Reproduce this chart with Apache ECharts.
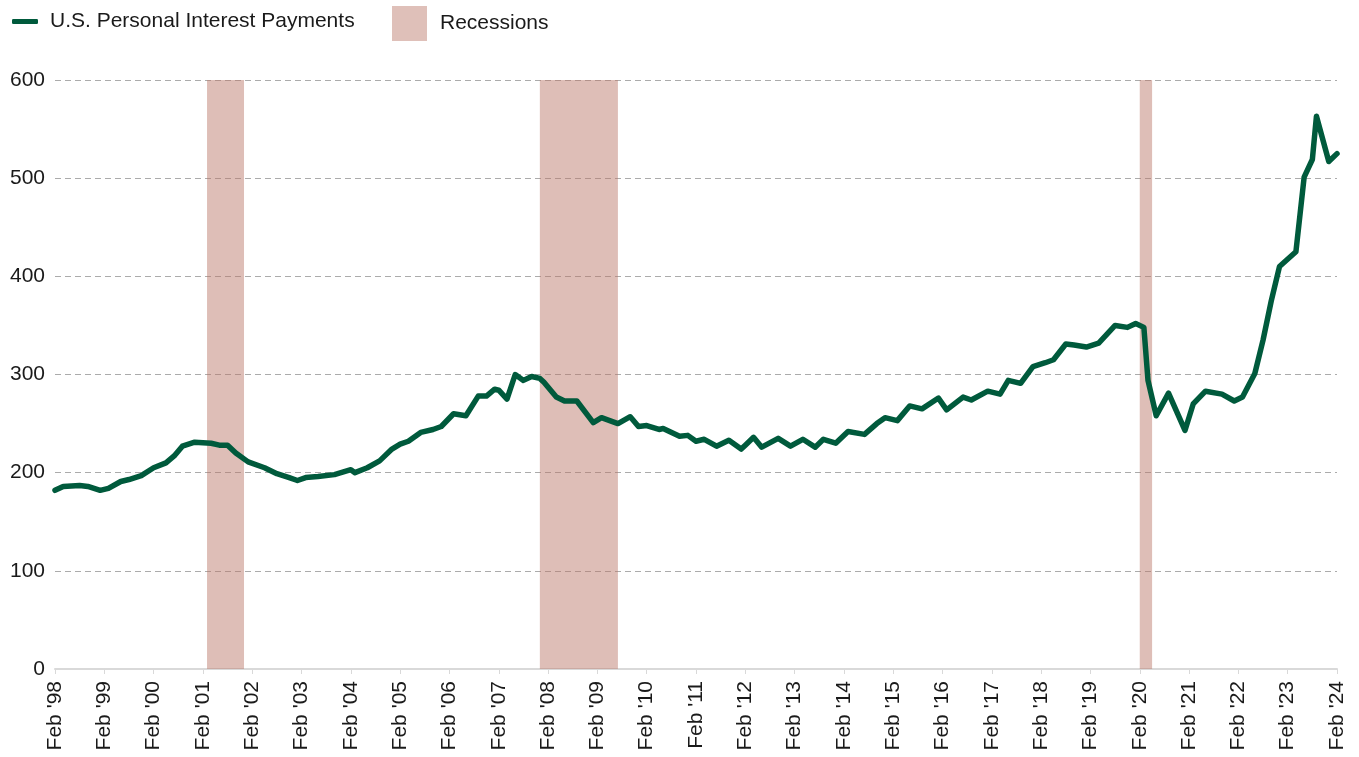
<!DOCTYPE html>
<html>
<head>
<meta charset="utf-8">
<script src="https://cdn.jsdelivr.net/npm/echarts@6/dist/echarts.min.js"></script>
<style>
html,body{margin:0;padding:0;background:#fff;}
#chart{width:1359px;height:757px;}
</style>
</head>
<body>
<div id="chart"></div>
<script>
// ---- DATA ----
const seriesName = 'U.S. Personal Interest Payments';
const recessionName = 'Recessions';
const dates = [
 '1998-02','1998-04','1998-08','1998-10','1999-01','1999-03','1999-06','1999-08','1999-11',
 '2000-02','2000-05','2000-07','2000-09','2000-12','2001-04','2001-06','2001-08','2001-10',
 '2002-01','2002-05','2002-08','2002-11','2003-01','2003-03','2003-06','2003-10',
 '2004-02','2004-03','2004-06','2004-09','2004-12','2005-02','2005-04','2005-07','2005-10','2005-12',
 '2006-03','2006-06','2006-09','2006-11','2007-01','2007-02','2007-04','2007-06','2007-08','2007-10','2007-12',
 '2008-01','2008-04','2008-06','2008-09','2009-01','2009-03','2009-07','2009-10','2009-12',
 '2010-02','2010-05','2010-06','2010-10','2010-12','2011-02','2011-04','2011-07','2011-10',
 '2012-01','2012-02','2012-04','2012-06','2012-10','2013-01','2013-04','2013-07','2013-09','2013-12',
 '2014-03','2014-07','2014-10','2014-12','2015-03','2015-06','2015-09','2016-01','2016-03','2016-07','2016-09',
 '2017-01','2017-04','2017-06','2017-09','2017-12','2018-03','2018-05','2018-08','2018-10',
 '2019-01','2019-04','2019-08','2019-11','2020-01','2020-03','2020-04','2020-06','2020-09',
 '2021-01','2021-03','2021-06','2021-10','2022-01','2022-03','2022-06','2022-08','2022-10','2022-12',
 '2023-04','2023-06','2023-08','2023-09','2023-12','2024-02'
];
const values = [
 182,186,187,186,182,184,191,193,197,
 205,210,217,227,231,230,228,228,220,
 211,205,199,195,192,195,196,198,
 203,200,205,212,224,229,232,241,244,247,
 260,258,278,278,285,284,275,300,294,298,296,
 292,277,273,273,251,256,250,257,247,
 248,244,245,237,238,232,234,227,233,
 224,228,236,226,235,227,234,226,234,230,
 242,239,250,256,253,268,265,276,264,277,274,
 283,280,294,291,308,312,315,331,330,
 328,332,350,348,352,348,294,258,281,
 243,270,283,280,273,277,301,335,375,410,
 425,501,519,563,517,525
];
const recessionStarts = ['2001-03','2007-12','2020-02'];
const recessionEnds   = ['2001-11','2009-06','2020-04'];
const axisStart = '1998-02';
const axisEnd = '2024-02';
const yTicks = [0,100,200,300,400,500,600];

// ---- HELPERS ----
function monthIndex(s){
  const [y,m] = s.split('-').map(Number);
  const [y0,m0] = axisStart.split('-').map(Number);
  return (y - y0) * 12 + (m - m0);
}
const points = dates.map((d,i)=>[monthIndex(d), values[i]]);
const areas = recessionStarts.map((s,i)=>[{xAxis: monthIndex(s)},{xAxis: monthIndex(recessionEnds[i]) + 1}]);
const xMax = monthIndex(axisEnd);

const FONT = 'Liberation Sans, Arial, sans-serif';
const chart = echarts.init(document.getElementById('chart'), null, {renderer:'canvas'});
chart.setOption({
  animation:false,
  backgroundColor:'#fff',
  textStyle:{fontFamily:FONT},
  legend:[
    {
      data:[seriesName], left:7, top:6, icon:'roundRect',
      itemWidth:26, itemHeight:5,
      textStyle:{fontSize:21, color:'#1a1a1a', fontFamily:FONT, padding:[0,0,0,7]}
    },
    {
      data:[recessionName], left:387, top:1, icon:'rect',
      itemWidth:35, itemHeight:35,
      textStyle:{fontSize:21, color:'#1a1a1a', fontFamily:FONT, padding:[0,0,6,8]}
    }
  ],
  grid:{left:55, right:22, top:80, bottom:88, containLabel:false},
  xAxis:{
    type:'value', min:0, max:xMax, interval:12,
    axisLine:{show:true, lineStyle:{color:'#d9d9d9', width:2}},
    axisTick:{show:true, length:5, lineStyle:{color:'#d9d9d9', width:1}},
    splitLine:{show:false},
    axisLabel:{
      rotate:90, margin:12, fontSize:21, color:'#1a1a1a', fontFamily:FONT,
      formatter:function(v){
        const y = 1998 + Math.floor((v + 1) / 12);
        return "Feb '" + String(y % 100).padStart(2,'0');
      }
    }
  },
  yAxis:{
    type:'value', min:yTicks[0], max:yTicks[yTicks.length-1], interval:100,
    axisLine:{show:false}, axisTick:{show:false},
    axisLabel:{fontSize:21, color:'#1a1a1a', margin:10, fontFamily:FONT},
    splitLine:{show:true, lineStyle:{color:'#ababab', type:[6,4], width:1}}
  },
  series:[
    {
      name:recessionName, type:'line', data:[],
      itemStyle:{color:'#dfc0b9'}, lineStyle:{color:'#dfc0b9'},
      markArea:{silent:true, itemStyle:{color:'rgba(185,120,105,0.48)'}, data:areas}
    },
    {
      name:seriesName, type:'line', data:points, showSymbol:false, symbol:'none',
      smooth:false, z:5,
      itemStyle:{color:'#005a3c'},
      lineStyle:{color:'#005a3c', width:5.5, join:'round', cap:'round'}
    }
  ]
});
</script>
</body>
</html>
